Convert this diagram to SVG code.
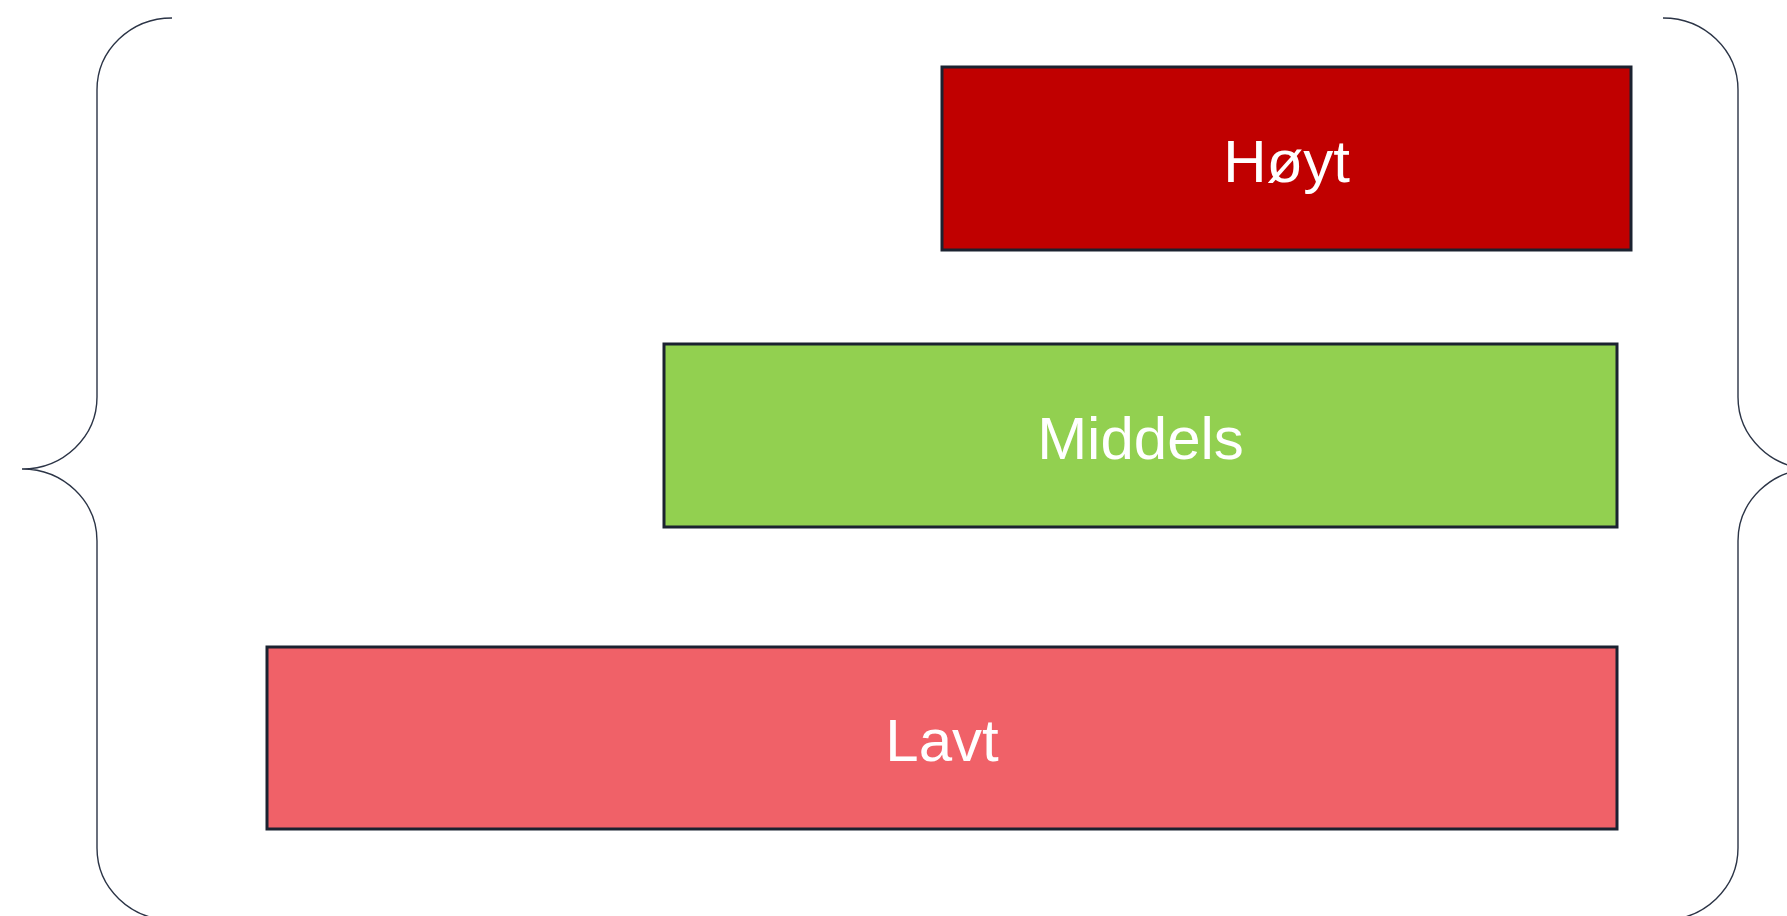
<svg xmlns="http://www.w3.org/2000/svg" width="1787" height="916" viewBox="0 0 1787 916">
<style>
.box{stroke:#1b2230;stroke-width:3}
.lbl{font-family:"Liberation Sans",Arial,sans-serif;font-size:60px;fill:#ffffff;text-anchor:middle}
.brace{fill:none;stroke:#2b3446;stroke-width:1.4}
</style>
<rect width="1787" height="916" fill="#ffffff"/>
<g id="connectors">
<path class="brace" d="M172,18 A75,72 0 0 0 97,90 V397 A75,72 0 0 1 22,469 A75,72 0 0 1 97,541 V848 A75,72 0 0 0 172,920"/>
<path class="brace" d="M1663,18 A75,72 0 0 1 1738,90 V397 A75,72 0 0 0 1813,469 A75,72 0 0 0 1738,541 V848 A75,72 0 0 1 1663,920"/>
</g>
<g id="hoyt">
<rect class="box" x="942" y="67" width="689" height="183" fill="#c00000"/>
<text class="lbl" x="1286.5" y="182">Høyt</text>
</g>
<g id="middels">
<rect class="box" x="664" y="344" width="953" height="183" fill="#92d050"/>
<text class="lbl" x="1140.5" y="459">Middels</text>
</g>
<g id="lavt">
<rect class="box" x="267" y="647" width="1350" height="182" fill="#f06168"/>
<text class="lbl" x="942" y="761">Lavt</text>
</g>
</svg>
